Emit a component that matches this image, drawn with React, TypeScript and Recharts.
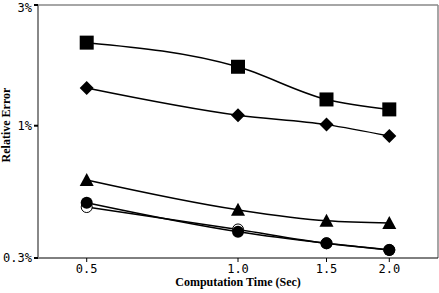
import { LineChart, Line, XAxis, YAxis, ReferenceLine, Label } from 'recharts';

const times = [0.5, 1.0, 1.5, 2.0];
const squareErr = [2.13, 1.71, 1.27, 1.16];
const diamondErr = [1.41, 1.1, 1.01, 0.91];
const triangleErr = [0.61, 0.465, 0.421, 0.413];
const openCircleErr = [0.477, 0.389, 0.343, 0.323];
const filledCircleErr = [0.496, 0.381, 0.343, 0.323];
const yTicks = [0.3, 1, 3];

const data = times.map((t, i) => ({
    t,
    square: squareErr[i],
    diamond: diamondErr[i],
    triangle: triangleErr[i],
    openCircle: openCircleErr[i],
    filledCircle: filledCircleErr[i],
}));

const SquareDot = (p: any) => <rect key={p.index} x={p.cx - 7} y={p.cy - 7} width={14} height={14} fill="#000" />;
const DiamondDot = (p: any) => (
    <path key={p.index} d={`M${p.cx},${p.cy - 7}L${p.cx + 7},${p.cy}L${p.cx},${p.cy + 7}L${p.cx - 7},${p.cy}Z`} fill="#000" />
);
const TriangleDot = (p: any) => (
    <path key={p.index} d={`M${p.cx},${p.cy - 7}L${p.cx + 7},${p.cy + 6}L${p.cx - 7},${p.cy + 6}Z`} fill="#000" />
);
const FilledDot = (p: any) => <circle key={p.index} cx={p.cx} cy={p.cy} r={6} fill="#000" />;
const OpenDot = (p: any) => <circle key={p.index} cx={p.cx} cy={p.cy} r={5.5} fill="#fff" stroke="#000" strokeWidth={1} />;

const tickFont = { fontFamily: 'DejaVu Sans Mono', fontSize: 12, fill: '#000' };
const labelFont = { fontFamily: 'Liberation Serif', fontSize: 12, fontWeight: 'bold', fill: '#000' };

// y label drawn by hand so it sits close to the page edge like the original
const YLabel = () => (
    <text x={10} y={125} transform="rotate(-90, 10, 125)" textAnchor="middle" style={labelFont}>
        Relative Error
    </text>
);

export default function App() {
    return (
        <div style={{ position: 'absolute', left: 0, top: 0, background: '#fff' }}>
            <LineChart width={439} height={293} data={data} margin={{ top: 5, right: 1, bottom: 0, left: 0 }}>
                <XAxis
                    dataKey="t"
                    type="number"
                    scale="log"
                    domain={[0.4, 2.5]}
                    ticks={times}
                    tickFormatter={(v: number) => v.toFixed(1)}
                    allowDataOverflow
                    height={35}
                    stroke="#000"
                    tickSize={4}
                    tick={tickFont}
                >
                    <Label value="Computation Time (Sec)" position="insideBottom" offset={7} style={labelFont} />
                </XAxis>
                <YAxis
                    type="number"
                    scale="log"
                    domain={[0.3, 3]}
                    ticks={yTicks}
                    tickFormatter={(v: number) => `${v}%`}
                    allowDataOverflow
                    width={38}
                    stroke="#888"
                    strokeWidth={2}
                    tickLine={{ stroke: '#000' }}
                    tickSize={4}
                    tick={tickFont}
                >
                    <Label content={YLabel} />
                </YAxis>
                <ReferenceLine y={3} stroke="#888" strokeWidth={1.5} />
                <ReferenceLine x={2.5} stroke="#888" strokeWidth={1.5} />
                <Line type="monotone" dataKey="square" stroke="#000" strokeWidth={1.5} dot={SquareDot} isAnimationActive={false} />
                <Line type="monotone" dataKey="diamond" stroke="#000" strokeWidth={1.5} dot={DiamondDot} isAnimationActive={false} />
                <Line type="monotone" dataKey="triangle" stroke="#000" strokeWidth={1.5} dot={TriangleDot} isAnimationActive={false} />
                <Line type="monotone" dataKey="openCircle" stroke="#000" strokeWidth={1.5} dot={OpenDot} isAnimationActive={false} />
                <Line type="monotone" dataKey="filledCircle" stroke="#000" strokeWidth={1.5} dot={FilledDot} isAnimationActive={false} />
            </LineChart>
        </div>
    );
}
